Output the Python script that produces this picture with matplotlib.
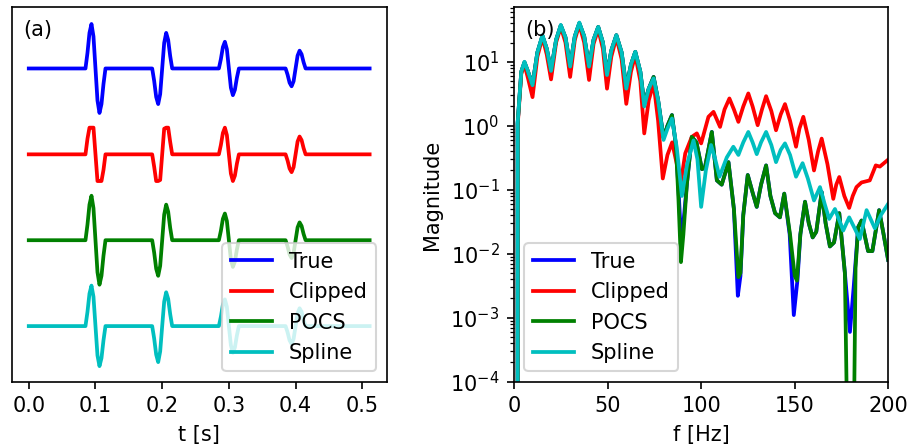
import numpy as np
import matplotlib
matplotlib.use("Agg")
import matplotlib.pyplot as plt

# ---------------- Data: time traces (panel a) ----------------
t_pts = [0.000,
         0.085, 0.088, 0.091, 0.094, 0.097, 0.100, 0.103, 0.106, 0.109, 0.112, 0.115,
         0.185, 0.188, 0.191, 0.194, 0.197, 0.200, 0.203, 0.206, 0.209, 0.212, 0.215,
         0.285, 0.288, 0.291, 0.294, 0.297, 0.300, 0.303, 0.306, 0.309, 0.312, 0.315,
         0.385, 0.388, 0.391, 0.394, 0.397, 0.400, 0.403, 0.406, 0.409, 0.412, 0.415,
         0.511]

y_true = [0.0,
          0, .35, .8, 1.0, .72, 0, -.72, -1.0, -.8, -.35, 0,
          0, -.28, -.64, -.8, -.576, 0, .576, .8, .64, .28, 0,
          0, .21, .48, .6, .432, 0, -.432, -.6, -.48, -.21, 0,
          0, -.14, -.32, -.4, -.288, 0, .288, .4, .32, .14, 0,
          0.0]

y_clipped = [0.0,
             0, .35, .6, .6, .6, 0, -.6, -.6, -.6, -.35, 0,
             0, -.28, -.6, -.6, -.576, 0, .576, .6, .6, .28, 0,
             0, .21, .48, .6, .432, 0, -.432, -.6, -.48, -.21, 0,
             0, -.14, -.32, -.4, -.288, 0, .288, .4, .32, .14, 0,
             0.0]

y_pocs = [0.0,
          0, .35, .8, 1.0, .72, 0, -.72, -1.0, -.8, -.35, 0,
          0, -.28, -.64, -.8, -.576, 0, .576, .8, .64, .28, 0,
          0, .21, .48, .6, .432, 0, -.432, -.6, -.48, -.21, 0,
          0, -.14, -.32, -.4, -.288, 0, .288, .4, .32, .14, 0,
          0.0]

y_spline = [0.0,
            0, .32, .73, .91, .66, 0, -.66, -.9, -.72, -.32, 0,
            0, -.28, -.64, -.81, -.57, 0, .55, .76, .61, .27, 0,
            0, .21, .48, .6, .432, 0, -.432, -.6, -.48, -.21, 0,
            0, -.14, -.32, -.4, -.288, 0, .288, .4, .32, .14, 0,
            0.0]

# ---------------- Data: spectra (panel b) ----------------
f_true = [0, 1.95, 3.9, 5.6, 7.5, 9.9, 12.5, 15.2, 17.5, 19.8, 22.5, 25, 27.5, 30, 32.5, 34.9,
          37.5, 40.1, 42.5, 45, 47.5, 49.7, 52, 54.7, 57.5, 60, 62.5, 64.8, 67.5, 69.6, 72, 74.6,
          77, 79.9, 82, 84.4, 86.5, 87.9, 89.2, 90.5, 92.4, 95, 97.5, 100.4, 102, 105.7, 108.4,
          111, 114.6, 117.5, 119.6, 121, 122.5, 124.9, 127.5, 129.7, 132, 134.7, 137, 139.5,
          142.1, 144.4, 147.3, 149.5, 151.5, 153, 155.5, 157.5, 159.6, 161.5, 164.4, 166.5,
          168.8, 171, 173.8, 176.8, 179.5, 181.5, 183.9, 185.7, 189.2, 191.5, 195.1, 197.5, 199.9]
mag_true = [0, 1.1, 7, 9.8, 7, 4.4, 14, 25.5, 16, 7.3, 22, 37, 24, 8.5, 25, 40,
            25, 8.5, 22, 35, 20, 6.5, 15, 26, 14, 4.0, 9, 14.3, 7, 2.2, 3.8, 5.8,
            2.5, 0.65, 1.0, 1.47, 0.5, 0.1, 0.0195, 0.03, 0.125, 0.67, 0.55, 0.21, 0.22, 0.8, 0.14,
            0.12, 0.27, 0.05, 0.0022, 0.0045, 0.04, 0.17, 0.09, 0.054, 0.12, 0.24, 0.08, 0.043,
            0.037, 0.087, 0.02, 0.0011, 0.004, 0.02, 0.065, 0.03, 0.018, 0.022, 0.092, 0.03,
            0.013, 0.015, 0.043, 0.005, 0.0006, 0.003, 0.026, 0.033, 0.011, 0.011, 0.048, 0.02, 0.008]

f_pocs = [0, 1.95, 3.9, 5.6, 7.5, 9.9, 12.5, 15.2, 17.5, 19.8, 22.5, 25, 27.5, 30, 32.5, 34.9,
          37.5, 40.1, 42.5, 45, 47.5, 49.7, 52, 54.7, 57.5, 60, 62.5, 64.8, 67.5, 69.6, 72, 74.6,
          77, 79.9, 82, 84.4, 86.5, 87.9, 89.2, 90.5, 92.4, 95, 97.5, 100.4, 102, 105.7, 108.4,
          111, 114.6, 117.5, 119.9, 121, 122.5, 124.9, 127.5, 129.7, 132, 134.7, 137, 139.5,
          142.1, 144.4, 147.5, 150, 151.2, 153, 155.5, 157.5, 159.6, 161.5, 164.4, 166.5,
          168.8, 171, 173.8, 176.8, 179.2, 180.8, 182.5, 183.9, 185.7, 189.2, 191.5, 195.1, 197.5, 199.9]
mag_pocs = [0, 1.1, 7, 9.8, 7, 4.4, 14, 25.5, 16, 7.3, 22, 37, 24, 8.5, 25, 40,
            25, 8.5, 22, 35, 20, 6.5, 15, 26, 14, 4.0, 9, 14.3, 7, 2.2, 3.8, 5.8,
            2.5, 0.65, 1.0, 1.47, 0.5, 0.068, 0.0074, 0.02, 0.125, 0.67, 0.55, 0.21, 0.22, 0.8, 0.14,
            0.12, 0.27, 0.05, 0.0043, 0.005, 0.04, 0.17, 0.09, 0.054, 0.12, 0.24, 0.08, 0.043,
            0.037, 0.087, 0.02, 0.0045, 0.0038, 0.02, 0.065, 0.03, 0.018, 0.022, 0.092, 0.03,
            0.013, 0.015, 0.043, 0.005, 1e-7, 1e-7, 0.006, 0.026, 0.033, 0.011, 0.011, 0.048, 0.02, 0.008]

f_spline = [0, 1.95, 3.9, 5.6, 7.5, 9.9, 12.5, 15.2, 17.5, 19.8, 22.5, 25, 27.5, 30, 32.5, 34.9,
            37.5, 40.1, 42.5, 45, 47.5, 49.7, 52, 54.7, 57.5, 60, 62.5, 64.8, 67.5, 69.6, 72, 74.6,
            77, 79.9, 82, 84.4, 87, 89.7, 92.5, 95.9, 98, 100, 102.5, 105.3, 107.5, 109.8, 113.7,
            117.2, 119.9, 122.5, 125.2, 127.5, 129.7, 132, 134.7, 137.5, 140, 142.5, 144.8, 147.5,
            150.7, 154.2, 157, 160.3, 163.5, 166, 168.4, 171.5, 175.9, 179.1, 182, 184.8, 188.4,
            192.8, 196, 199.9]
mag_spline = [0, 1.1, 7, 10, 7, 4.3, 14, 26, 16, 7.2, 22, 37.6, 24, 8.4, 25, 41,
              25, 8.4, 22, 35, 20, 6.2, 15, 26, 14, 3.8, 9, 14.3, 7, 2.0, 3.8, 5.5,
              2.5, 0.6, 0.9, 1.3, 0.45, 0.08, 0.25, 0.59, 0.3, 0.054, 0.2, 0.5, 0.3, 0.16, 0.32,
              0.47, 0.35, 0.55, 0.8, 0.55, 0.36, 0.55, 0.8, 0.5, 0.27, 0.42, 0.53, 0.35,
              0.16, 0.26, 0.15, 0.068, 0.11, 0.06, 0.035, 0.05, 0.023, 0.037, 0.025, 0.017, 0.048,
              0.025, 0.04, 0.06]

f_clipped = [0, 1.95, 3.9, 5.6, 7.5, 9.9, 12.5, 15.2, 17.5, 19.8, 22.5, 25, 27.5, 30, 32.5, 34.9,
             37.5, 40.1, 42.5, 45, 47.5, 49.7, 52, 54.7, 57.5, 60, 62.5, 64.8, 67.5, 69.6, 72, 74.6,
             77, 79.5, 82, 84.5, 87, 89, 91.5, 95, 97.7, 100, 103.9, 106.6, 110.1, 112.5, 115.1,
             117.5, 119.9, 122.5, 125.2, 127.5, 130.2, 132.5, 134.7, 137.5, 140, 142.5, 144.8,
             147.5, 150.7, 152.5, 154.6, 157.5, 160.3, 162.5, 164.4, 167.5, 170.6, 172.2, 173.8,
             176.5, 179.1, 181, 183, 185.7, 190.1, 193.3, 195.5, 199.9]
mag_clipped = [0, 1.0, 6.5, 9, 5.5, 2.8, 12, 24, 13, 5.3, 20, 35, 20, 5.8, 22, 38,
               20, 5.2, 19, 32, 16, 3.8, 12, 24, 11, 2.2, 7, 12.7, 5, 0.76, 2.5, 4.6,
               1.2, 0.15, 0.35, 0.55, 0.25, 0.12, 0.37, 0.67, 0.76, 0.53, 1.38, 1.65, 0.96, 1.8, 2.67,
               1.8, 1.15, 2.0, 3.2, 2.0, 1.02, 1.8, 2.9, 1.7, 0.85, 1.5, 2.18,
               1.2, 0.47, 0.9, 1.38, 0.6, 0.2, 0.4, 0.63, 0.25, 0.072, 0.12, 0.158,
               0.08, 0.052, 0.08, 0.11, 0.13, 0.14, 0.24, 0.23, 0.295]

labels = ["True", "Clipped", "POCS", "Spline"]
colors = ["b", "r", "g", "c"]

# ---------------- Figure ----------------
plt.rcParams["font.family"] = ["DejaVu Sans"]
plt.rcParams["font.size"] = 10

W, H = 909, 445
DPI = 150
fig = plt.figure(figsize=(W / DPI, H / DPI), dpi=DPI)
ax1 = fig.add_axes([11.7 / W, 1 - 381.7 / H, (386.7 - 11.7) / W, (381.7 - 7.3) / H])
ax2 = fig.add_axes([514 / W, 1 - 381.7 / H, (888.3 - 514) / W, (381.7 - 7.3) / H])

offset_step = 1.93
traces = [y_true, y_clipped, y_pocs, y_spline]
for i, (ys, c, lab) in enumerate(zip(traces, colors, labels)):
    ax1.plot(t_pts, np.array(ys) - i * offset_step, color=c, lw=1.8, label=lab)
ax1.set_xlim(-0.0256, 0.5366)
ax1.set_ylim(-7.04, 1.375)
ax1.set_yticks([])
ax1.set_xticks([0.0, 0.1, 0.2, 0.3, 0.4, 0.5])
ax1.set_xlabel("t [s]")
ax1.text(0.03, 0.966, "(a)", transform=ax1.transAxes, va="top", ha="left")
ax1.legend(loc="lower right")

spectra = [(f_true, mag_true), (f_clipped, mag_clipped), (f_pocs, mag_pocs), (f_spline, mag_spline)]
for (ff, mm), c, lab in zip(spectra, colors, labels):
    ax2.plot(ff, mm, color=c, lw=1.8, label=lab)
ax2.set_yscale("log")
ax2.set_xlim(0, 200)
ax2.set_ylim(1e-4, 71)
ax2.set_xticks([0, 50, 100, 150, 200])
ax2.set_xlabel("f [Hz]")
ax2.set_ylabel("Magnitude")
ax2.text(0.029, 0.966, "(b)", transform=ax2.transAxes, va="top", ha="left")
ax2.legend(loc="lower left")

fig.savefig("out.png", dpi=DPI)
